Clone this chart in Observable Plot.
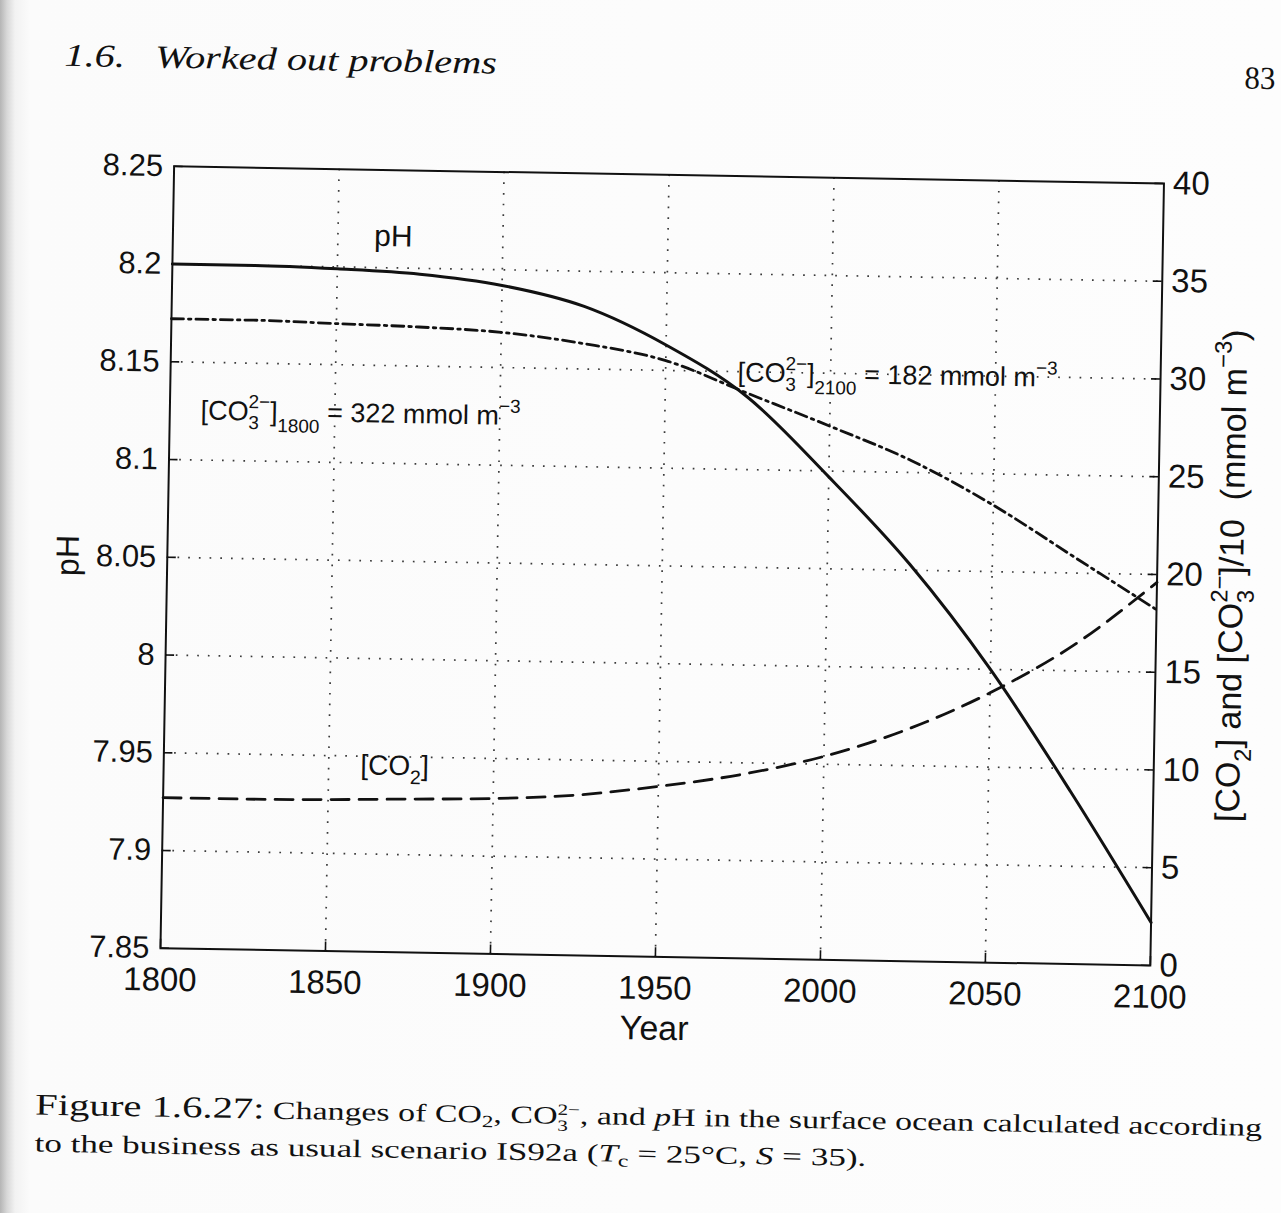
<!DOCTYPE html>
<html>
<head>
<meta charset="utf-8">
<script src="https://cdn.jsdelivr.net/npm/d3@7"></script>
<script src="https://cdn.jsdelivr.net/npm/@observablehq/plot@0.6"></script>
<style>
html, body { margin: 0; padding: 0; width: 1281px; height: 1213px; overflow: hidden; }
body { background: linear-gradient(to right, #b5b5b5 0px, #d8d8d8 7px, #f2f2f2 15px, #fbfbfb 30px, #fdfdfd 100%); }
#page { position: absolute; left: 0; top: 0; width: 1281px; height: 1213px;
        transform: rotate(1deg); transform-origin: 640.5px 606.5px; }
.serif { font-family: "Liberation Serif", "DejaVu Serif", serif; color: #111; }
.line { position: absolute; white-space: nowrap; transform-origin: 0 50%; }
.line sub { font-size: 0.68em; vertical-align: -0.28em; line-height: 0; }
.ss { display: inline-block; font-size: 0.62em; line-height: 1; vertical-align: -0.45em; }
.ss span { display: block; }
#chart { position: absolute; left: 0; top: 120px; }
</style>
</head>
<body>
<div id="page">
  <div class="line serif" id="hdr" data-w="432" style="left:55px; top:47px; font-size:32px; line-height:36px; font-style:italic;">1.6.&nbsp;&nbsp; Worked out problems</div>
  <div class="line serif" id="pno" data-w="31" style="left:1235px; top:49px; font-size:32px; line-height:36px;">83</div>
  <div id="chart"></div>
  <div class="line serif" id="cap1" data-w="1227" style="left:44px; top:1097px; font-size:25px; line-height:36px;"><span style="font-size:30px">Figure 1.6.27:</span> Changes of CO<sub>2</sub>, CO<span class="ss"><span>2−</span><span>3</span></span>, and <i>p</i>H in the surface ocean calculated according</div>
  <div class="line serif" id="cap2" data-w="832" style="left:44px; top:1136px; font-size:25px; line-height:36px;">to the business as usual scenario IS92a (<i>T</i><sub>c</sub> = 25°C, <i>S</i> = 35).</div>
</div>
<script>
// ---------------- data ----------------
const years = [1800, 1825, 1850, 1875, 1900, 1925, 1950, 1975, 2000, 2025, 2050, 2075, 2100];
const pH    = [8.200, 8.200, 8.199, 8.197, 8.192, 8.182, 8.163, 8.137, 8.097, 8.053, 8.000, 7.938, 7.872];
const co3   = [32.2, 32.2, 32.1, 32.0, 31.8, 31.3, 30.5, 28.9, 27.3, 25.6, 23.4, 20.8, 18.2]; // [CO3 2-]/10 (mmol m-3)
const co2   = [7.7, 7.7, 7.75, 7.85, 7.95, 8.2, 8.72, 9.4, 10.4, 11.85, 13.8, 16.3, 19.6]; // [CO2] (mmol m-3)

const xTicks     = [1800, 1850, 1900, 1950, 2000, 2050, 2100];
const pHTicks    = [7.85, 7.9, 7.95, 8.0, 8.05, 8.1, 8.15, 8.2, 8.25];
const concTicks  = [0, 5, 10, 15, 20, 25, 30, 35, 40];
const gridYears  = [1850, 1900, 1950, 2000, 2050];
const gridPH     = [7.9, 7.95, 8.0, 8.05, 8.1, 8.15, 8.2];

const pHDomain   = [7.85, 8.25];
const concDomain = [0, 40];

const labelPH    = "pH";
const labelYear  = "Year";
const labelRight = "[CO2] and [CO3 2−]/10  (mmol m−3)";
const noteCO3a   = "[CO3 2−]1800 = 322 mmol m−3";
const noteCO3b   = "[CO3 2−]2100 = 182 mmol m−3";
const noteCO2    = "[CO2]";
const notePH     = "pH";

// annotation anchors (year, pH-scale value)
const notes = [
  {text: notePH,   year: 1866.8, value: 8.216},
  {text: noteCO3a, year: 1809.3, value: 8.1252},
  {text: noteCO3b, year: 1971.8, value: 8.1495},
  {text: noteCO2,  year: 1859.6, value: 7.9453}
];

// ---------------- build ----------------
const toPH = v => pHDomain[0] + (v - concDomain[0]) * (pHDomain[1] - pHDomain[0]) / (concDomain[1] - concDomain[0]);
const fromPH = p => Math.round((p - pHDomain[0]) * (concDomain[1] - concDomain[0]) / (pHDomain[1] - pHDomain[0]));
const rows = years.map((y, i) => ({year: y, ph: pH[i], co3: toPH(co3[i]), co2: toPH(co2[i])}));

const W = 1281, H = 950, mL = 166, mR = 125, mT = 54, mB = 114;
const FW = W - mL - mR, FH = H - mT - mB;
const ink = "#111";
const fontSans = "'Liberation Sans', Arial, Helvetica, sans-serif";

const chart = Plot.plot({
  width: W, height: H,
  marginLeft: mL, marginRight: mR, marginTop: mT, marginBottom: mB,
  x: {domain: [1800, 2100], axis: null},
  y: {domain: pHDomain, axis: null},
  style: {background: "transparent", fontFamily: fontSans, fontSize: "31px", color: ink},
  marks: [
    Plot.ruleX(gridYears, {x: d => d, stroke: "#3a3a3a", strokeWidth: 1.7, strokeDasharray: "1.7,9"}),
    Plot.ruleY(gridPH, {y: d => d, stroke: "#3a3a3a", strokeWidth: 1.7, strokeDasharray: "1.7,9"}),
    Plot.line(rows, {x: "year", y: "co3", curve: "monotone-x", stroke: ink, strokeWidth: 2.8, strokeDasharray: "12,5,2.5,5"}),
    Plot.line(rows, {x: "year", y: "co2", curve: "monotone-x", stroke: ink, strokeWidth: 2.8, strokeDasharray: "18,10"}),
    Plot.line(rows, {x: "year", y: "ph", curve: "monotone-x", stroke: ink, strokeWidth: 3}),
    Plot.frame({stroke: ink, strokeWidth: 2}),
    Plot.tickY(pHTicks, {y: d => d, insetRight: FW - 9, stroke: ink, strokeWidth: 1.6}),
    Plot.tickY(concTicks.map(toPH), {y: d => d, insetLeft: FW - 9, stroke: ink, strokeWidth: 1.6}),
    Plot.tickX(xTicks, {x: d => d, insetTop: FH - 9, stroke: ink, strokeWidth: 1.6}),
    Plot.axisX(xTicks, {anchor: "bottom", tickSize: 0, tickPadding: 19, tickFormat: d => String(d), label: null, fontSize: 33}),
    Plot.axisY(pHTicks, {anchor: "left", tickSize: 0, tickPadding: 11, tickFormat: d => String(+d.toFixed(2)), label: null, fontSize: 31}),
    Plot.axisY(concTicks.map(toPH), {anchor: "right", tickSize: 0, tickPadding: 9, tickFormat: d => String(fromPH(d)), label: null, fontSize: 33}),
    Plot.text([labelPH], {text: d => d, frameAnchor: "left", textAnchor: "middle", lineAnchor: "middle", dx: -99, rotate: -90, fontSize: 32}),
    Plot.text([labelYear], {text: d => d, frameAnchor: "bottom", textAnchor: "middle", lineAnchor: "middle", dy: 72, fontSize: 34}),
    Plot.text([labelRight], {text: d => d, frameAnchor: "right", textAnchor: "middle", lineAnchor: "middle", dx: 75, rotate: -90, fontSize: 34}),
    Plot.text(notes.slice(0, 1), {x: "year", y: "value", text: "text", textAnchor: "middle", lineAnchor: "middle", fontSize: 30}),
    Plot.text(notes.slice(1, 3), {x: "year", y: "value", text: "text", textAnchor: "start", lineAnchor: "middle", fontSize: 27}),
    Plot.text(notes.slice(3), {x: "year", y: "value", text: "text", textAnchor: "start", lineAnchor: "middle", fontSize: 28})
  ]
});
document.getElementById("chart").appendChild(chart);

// ---------------- rich text (sub/superscripts) ----------------
const NS = "http://www.w3.org/2000/svg";
function richify(key, segs) {
  const el = [...chart.querySelectorAll("text")].find(t => t.textContent === key);
  if (!el) return;
  const fs = parseFloat(getComputedStyle(el).fontSize);
  while (el.firstChild) el.removeChild(el.firstChild);
  let base = 0;
  const add = (txt, scale, off, dx) => {
    const t = document.createElementNS(NS, "tspan");
    t.textContent = txt;
    if (scale !== 1) t.setAttribute("font-size", (scale * fs).toFixed(1));
    const dy = off * fs - base; base = off * fs;
    if (Math.abs(dy) > 0.01) t.setAttribute("dy", dy.toFixed(2));
    if (dx) t.setAttribute("dx", dx.toFixed(2));
    el.appendChild(t);
    return t;
  };
  let pendingDx = 0;
  for (const s of segs) {
    if (typeof s === "string") { add(s, 1, 0, pendingDx); pendingDx = 0; }
    else if (s.sub) { add(s.sub, 0.7, s.off ?? 0.32, pendingDx); pendingDx = 0; }
    else if (s.sup) { add(s.sup, 0.7, -0.45, pendingDx); pendingDx = 0; }
    else if (s.stack) {
      const a = add(s.stack[0], 0.7, -0.45, pendingDx);
      const la = a.getComputedTextLength();
      const b = add(s.stack[1], 0.7, 0.32, -la);
      const lb = b.getComputedTextLength();
      pendingDx = Math.max(0, la - lb);
    }
  }
}
richify(noteCO3a, ["[CO", {stack: ["2−", "3"]}, "]", {sub: "1800", off: 0.42}, " = 322 mmol m", {sup: "−3"}]);
richify(noteCO3b, ["[CO", {stack: ["2−", "3"]}, "]", {sub: "2100", off: 0.42}, " = 182 mmol m", {sup: "−3"}]);
richify(noteCO2, ["[CO", {sub: "2"}, "]"]);
richify(labelRight, ["[CO", {sub: "2"}, "] and [CO", {stack: ["2−", "3"]}, "]/10  (mmol m", {sup: "−3"}, ")"]);

// ---------------- fit page text widths ----------------
document.querySelectorAll(".line[data-w]").forEach(el => {
  const w = el.scrollWidth, target = +el.dataset.w;
  if (w > 0) el.style.transform = `scaleX(${(target / w).toFixed(4)})`;
});
</script>
</body>
</html>
